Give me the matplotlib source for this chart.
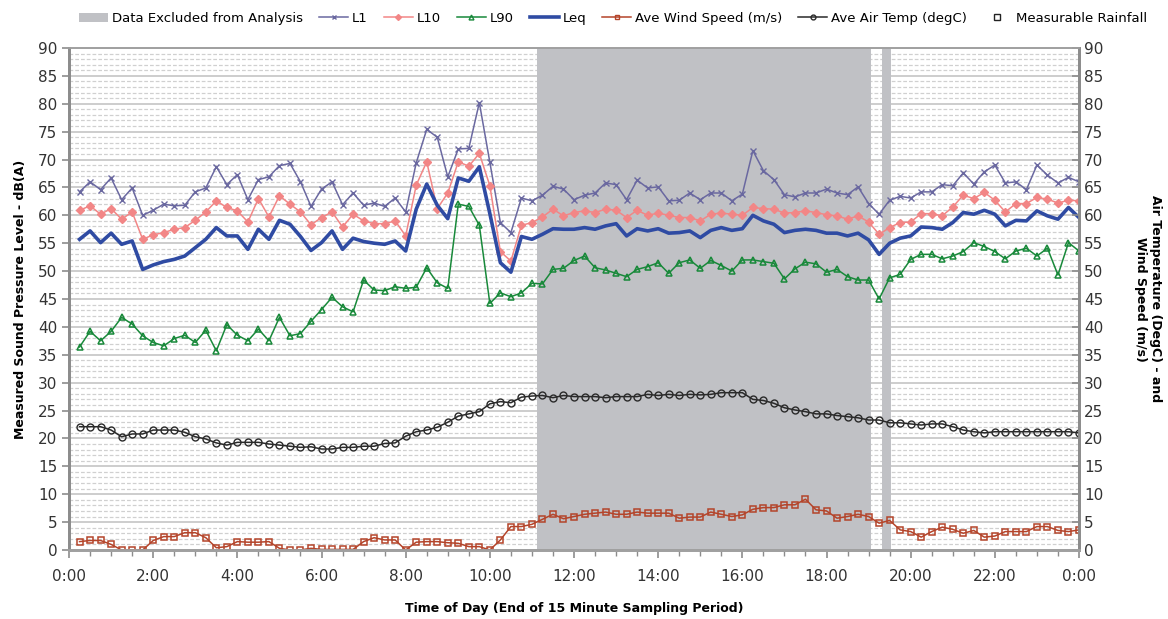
import numpy as np
import matplotlib
matplotlib.use("Agg")
import matplotlib.pyplot as plt
from matplotlib.patches import Patch
from matplotlib.lines import Line2D
from matplotlib.ticker import MultipleLocator

plt.rcParams['font.family'] = ['DejaVu Sans']

# 15 minute sampling periods, value logged at the end of each period (hours)
periods = np.arange(1, 97) * 0.25

l1 = [64.2, 66.0, 64.6, 66.7, 62.8, 64.9, 60.0, 60.9, 62.0, 61.7, 61.8, 64.2, 64.9, 68.7, 65.5, 67.3,
      62.8, 66.4, 66.9, 68.9, 69.3, 66.0, 61.6,
      64.7, 66.0, 61.9, 64.0, 61.8, 62.2, 61.6, 63.1, 60.6, 69.4, 75.4, 74.0, 66.9, 71.9, 72.0, 80.2,
      69.5, 58.7, 56.9, 63.1, 62.6, 63.6, 65.2, 64.7,
      62.8, 63.6, 64.0, 65.8, 65.5, 62.8, 66.3, 64.9, 65.1, 62.6, 62.7, 64.0, 62.8, 64.0, 64.0, 62.6,
      63.8, 71.6, 68.0, 66.4, 63.7, 63.3, 64.0, 64.0, 64.7,
      64.0, 63.7, 65.1, 62.1, 60.2, 62.7, 63.4, 63.1, 64.2, 64.2, 65.5, 65.3, 67.6, 65.6, 67.8, 69.0,
      65.8, 66.0, 64.6, 69.0, 67.2, 65.8, 66.8, 66.0]

l10 = [60.9, 61.7, 60.2, 61.2, 59.3, 60.6, 55.7, 56.5, 56.9, 57.5, 57.8, 59.1, 60.6, 62.6, 61.4, 60.8,
       58.8, 63.0, 59.7, 63.5, 62.0, 60.6, 58.3,
       59.6, 60.6, 57.9, 60.2, 59.0, 58.5, 58.5, 59.0, 56.3, 65.4, 69.6, 61.2, 64.0, 69.6, 68.8, 71.1,
       65.3, 53.5, 51.8, 58.2, 58.7, 59.7, 61.1, 59.9,
       60.5, 60.8, 60.5, 61.1, 60.9, 59.6, 60.9, 60.0, 60.4, 60.0, 59.6, 59.6, 59.0, 60.2, 60.4, 60.2,
       60.0, 61.4, 61.2, 61.1, 60.4, 60.5, 60.8, 60.5, 60.1,
       59.9, 59.3, 59.9, 58.8, 56.6, 57.8, 58.7, 58.8, 60.3, 60.3, 59.9, 61.5, 63.6, 63.0, 64.1, 62.7,
       60.6, 62.1, 62.1, 63.2, 62.9, 62.2, 62.7, 62.6]

l90 = [36.4, 39.2, 37.5, 39.2, 41.7, 40.5, 38.4, 37.2, 36.6, 37.9, 38.5, 37.2, 39.4, 35.7, 40.4, 38.5,
       37.5, 39.6, 37.5, 41.7, 38.4, 38.8, 41.0,
       43.1, 45.3, 43.6, 42.7, 48.4, 46.6, 46.5, 47.2, 46.9, 47.1, 50.6, 47.9, 46.9, 62.0, 61.6, 58.2,
       44.2, 46.1, 45.4, 46.1, 47.8, 47.7, 50.3, 50.5,
       51.9, 52.7, 50.6, 50.2, 49.6, 49.0, 50.3, 50.8, 51.5, 49.6, 51.5, 52.0, 50.5, 51.9, 51.0, 50.0,
       52.0, 52.0, 51.7, 51.4, 48.6, 50.4, 51.6, 51.3, 49.8,
       50.3, 49.0, 48.4, 48.4, 45.0, 48.8, 49.4, 52.1, 53.0, 53.0, 52.2, 52.7, 53.5, 55.1, 54.4, 53.5,
       52.2, 53.6, 54.1, 52.7, 54.1, 49.3, 55.1, 53.6]

leq = [55.7, 57.2, 55.1, 56.8, 54.8, 55.4, 50.3, 51.1, 51.7, 52.1, 52.7, 54.2, 55.7, 57.8, 56.3, 56.3,
       53.9, 57.5, 55.7, 59.1, 58.4, 56.2, 53.7,
       55.1, 57.2, 53.9, 55.9, 55.3, 55.0, 54.8, 55.4, 53.6, 61.1, 65.6, 61.8, 59.4, 66.7, 66.1, 68.7,
       60.3, 51.5, 49.8, 56.2, 55.7, 56.6, 57.6, 57.5,
       57.5, 57.8, 57.5, 58.1, 58.5, 56.3, 57.6, 57.2, 57.6, 56.8, 56.9, 57.2, 56.0, 57.3, 57.8, 57.3,
       57.6, 60.0, 59.0, 58.4, 56.9, 57.3, 57.5, 57.3, 56.8,
       56.8, 56.3, 56.8, 55.6, 53.0, 55.0, 55.9, 56.3, 57.9, 57.8, 57.5, 58.7, 60.5, 60.2, 60.9, 60.2,
       58.1, 59.1, 59.0, 60.8, 59.9, 59.3, 61.4, 59.6]

wind_speed = [1.5, 1.7, 1.7, 1.0, 0.0, 0.0, 0.0, 1.7, 2.4, 2.4, 3.1, 3.1, 2.2, 0.4, 0.6, 1.5,
              1.4, 1.4, 1.5, 0.3, 0.0, 0.0, 0.3,
              0.1, 0.1, 0.1, 0.1, 1.5, 2.2, 1.8, 1.8, 0.0, 1.4, 1.5, 1.5, 1.3, 1.2, 0.6, 0.6,
              0.0, 1.8, 4.2, 4.2, 4.6, 5.5, 6.4, 5.6,
              6.0, 6.4, 6.6, 6.8, 6.4, 6.4, 6.8, 6.6, 6.6, 6.6, 5.7, 5.9, 5.9, 6.8, 6.4, 6.0,
              6.3, 7.3, 7.6, 7.6, 8.1, 8.1, 9.1, 7.2, 7.0,
              5.7, 6.0, 6.4, 6.0, 4.8, 5.3, 3.6, 3.3, 2.3, 3.3, 4.1, 3.7, 3.0, 3.5, 2.3, 2.5,
              3.3, 3.3, 3.3, 4.2, 4.2, 3.5, 3.3, 3.6]

air_temp = [22.1, 22.1, 22.1, 21.5, 20.3, 20.8, 20.8, 21.5, 21.5, 21.5, 21.1, 20.3, 19.9, 19.2, 18.8, 19.3,
            19.3, 19.3, 19.0, 18.8, 18.6, 18.4, 18.5,
            18.1, 18.1, 18.4, 18.4, 18.6, 18.6, 19.1, 19.2, 20.4, 21.2, 21.5, 22.0, 22.9, 24.0, 24.4, 24.8,
            26.2, 26.6, 26.4, 27.4, 27.6, 27.7, 27.3, 27.7,
            27.5, 27.5, 27.5, 27.3, 27.5, 27.5, 27.5, 27.9, 27.7, 27.9, 27.7, 27.9, 27.8, 27.9, 28.2, 28.2,
            28.2, 27.0, 26.8, 26.3, 25.5, 25.1, 24.8, 24.4, 24.4,
            24.1, 23.9, 23.7, 23.3, 23.3, 22.8, 22.8, 22.6, 22.4, 22.6, 22.6, 22.1, 21.5, 21.2, 21.0, 21.2,
            21.2, 21.2, 21.2, 21.2, 21.2, 21.2, 21.2, 21.0]

# no rain recorded on this day
rain_times = []
rain_values = []

# periods excluded from analysis (start hour, end hour)
excluded = [(11.12, 19.05), (19.32, 19.53)]

hour_ticks = np.arange(0, 25, 2)
hour_labels = [f"{h % 24}:00" for h in hour_ticks]

gray = "#c0c1c5"
axis_gray = "#8c8c8c"

fig = plt.figure(figsize=(11.68, 6.19), dpi=100)
ax = fig.add_axes([0.0591, 0.1115, 0.8647, 0.811])

for start, end in excluded:
    ax.axvspan(start, end, color=gray, lw=0, zorder=1)

ax.plot(periods, l1, color="#6a68a0", lw=1.1, marker="x", ms=4.5, mew=1.0, zorder=3)
ax.plot(periods, l10, color="#f28686", lw=1.1, marker="D", ms=3.8, zorder=3)
ax.plot(periods, l90, color="#18893a", lw=1.1, marker="^", ms=4.8, mfc="none", mew=1.1, zorder=3)
ax.plot(periods, leq, color="#2f4ba3", lw=2.6, zorder=4)
ax.plot(periods, wind_speed, color="#b4442a", lw=1.1, marker="s", ms=4.8, mfc="none", mew=1.1, zorder=3)
ax.plot(periods, air_temp, color="#2a2a2a", lw=1.1, marker="o", ms=5, mfc="none", mew=1.0, zorder=3)
ax.plot(rain_times, rain_values, ls="none", marker="s", ms=5, mfc="none", mec="#222222")

ax.set_xlim(0, 24)
ax.set_ylim(0, 90)
ax.set_xticks(hour_ticks)
ax.set_xticklabels(hour_labels)
ax.xaxis.set_minor_locator(MultipleLocator(0.5))
ax.set_yticks(np.arange(0, 91, 5))
ax.yaxis.set_minor_locator(MultipleLocator(1))

ax.set_axisbelow(True)
ax.grid(which="major", axis="y", color="#c9c9c9", lw=1.3, ls="-", zorder=0)
ax.grid(which="minor", axis="y", color="#d0d0d0", lw=0.9, ls=(0, (3, 1.6)), zorder=0)

ax.tick_params(axis="both", which="major", labelsize=11, colors=axis_gray, labelcolor="#333333")
ax.tick_params(axis="x", which="major", length=6, width=1.2, direction="out", pad=8)
ax.tick_params(axis="x", which="minor", length=4, width=1.0, color=axis_gray, direction="out")
ax.tick_params(axis="y", which="major", length=5, width=1.2, direction="out")
ax.tick_params(axis="y", which="minor", length=0)

ax2 = ax.twinx()
ax2.set_ylim(0, 90)
ax2.set_yticks(np.arange(0, 91, 5))
ax2.tick_params(axis="y", labelsize=11, colors=axis_gray, labelcolor="#333333",
                length=5, width=1.2, direction="in")

for a in (ax, ax2):
    a.spines["left"].set_color(axis_gray)
    a.spines["left"].set_linewidth(2)
    a.spines["right"].set_color(axis_gray)
    a.spines["right"].set_linewidth(2)
    a.spines["bottom"].set_color("#a0a0a0")
    a.spines["bottom"].set_linewidth(2)
    a.spines["top"].set_color("#a0a0a0")
    a.spines["top"].set_linewidth(1.2)

ax.set_xlabel("Time of Day (End of 15 Minute Sampling Period)", fontsize=9, fontweight="bold",
              labelpad=13)
ax.set_ylabel("Measured Sound Pressure Level - dB(A)", fontsize=9, fontweight="bold", labelpad=8)
ax2.set_ylabel("Air Temperature (DegC) - and\nWind Speed (m/s)", fontsize=9, fontweight="bold",
               rotation=270, labelpad=42)

handles = [
    Patch(facecolor=gray, edgecolor="none"),
    Line2D([], [], color="#6a68a0", lw=1.1, marker="x", ms=3.5),
    Line2D([], [], color="#f28686", lw=1.1, marker="D", ms=3),
    Line2D([], [], color="#18893a", lw=1.1, marker="^", ms=3.5, mfc="none"),
    Line2D([], [], color="#2f4ba3", lw=2.6),
    Line2D([], [], color="#b4442a", lw=1.1, marker="s", ms=3.5, mfc="none"),
    Line2D([], [], color="#2a2a2a", lw=1.1, marker="o", ms=3.5, mfc="none"),
    Line2D([], [], ls="none", marker="s", ms=4, mfc="none", mec="#222222"),
]
labels = ["Data Excluded from Analysis", "L1", "L10", "L90", "Leq",
          "Ave Wind Speed (m/s)", "Ave Air Temp (degC)", "Measurable Rainfall"]
fig.legend(handles, labels, loc="upper center", bbox_to_anchor=(0.525, 1.0), ncol=8, frameon=False,
           fontsize=9.5, handlelength=2.2, handletextpad=0.3, columnspacing=1.2)

fig.savefig("out.png", dpi=100)
